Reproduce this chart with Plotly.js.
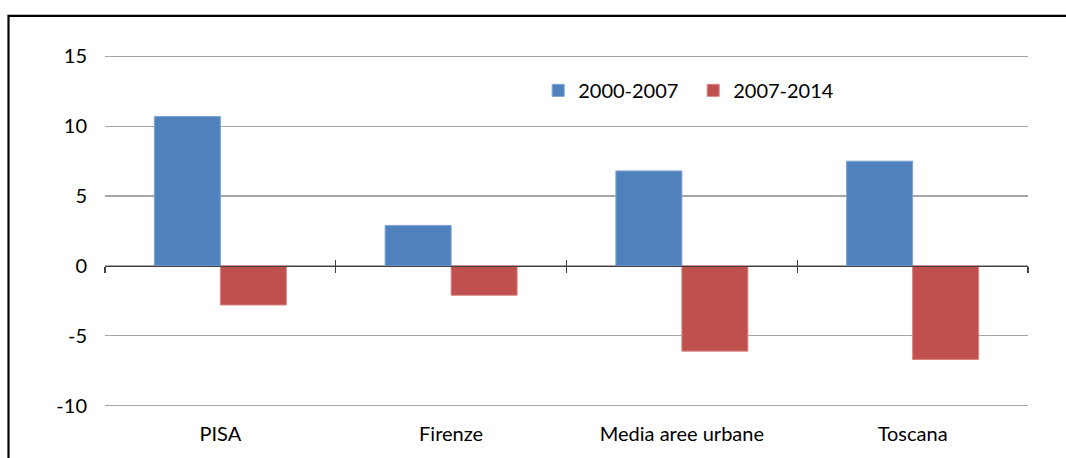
<!DOCTYPE html>
<html>
<head>
<meta charset="utf-8">
<script src="https://cdn.plot.ly/plotly-3.0.1.min.js"></script>
<style>html,body{margin:0;padding:0;background:#fff;}#chart{width:1066px;height:458px;}</style>
</head>
<body>
<div id="chart"></div>
<script>
var categories = ["PISA", "Firenze", "Media aree urbane", "Toscana"];
var series1Name = "2000-2007";
var series2Name = "2007-2014";
var series1 = [10.7, 2.9, 6.8, 7.5];
var series2 = [-2.8, -2.1, -6.1, -6.7];
var yTicks = [-10, -5, 0, 5, 10, 15];
var catIdx = categories.map(function(c, i){ return i; });
var boundaries = [-0.5, 0.5, 1.5, 2.5, 3.5];

var FONT = "Lato, 'Open Sans', sans-serif";
var FS = 20;
var Y0 = -10.1, Y1 = 15.1;          // slight padding so the 15 and -10 gridlines are drawn
var zeroPos = (0 - Y0) / (Y1 - Y0);
var plotTop = 54.6, plotBottom = 406.9, plotH = plotBottom - plotTop;

var traces = [
  {type: "bar", name: series1Name, x: catIdx, y: series1,
   marker: {color: "#4F81BD", line: {color: "#7FA2D3", width: 1}}, hoverinfo: "y"},
  {type: "bar", name: series2Name, x: catIdx, y: series2,
   marker: {color: "#C0504D", line: {color: "#D88583", width: 1}}, hoverinfo: "y"},
  {type: "scatter", mode: "none", x: boundaries, y: boundaries.map(function(){ return 0; }),
   xaxis: "x2", showlegend: false, hoverinfo: "skip"},
  {type: "scatter", mode: "none", x: boundaries, y: boundaries.map(function(){ return 0; }),
   xaxis: "x3", showlegend: false, hoverinfo: "skip"}
];

var tickAxis = function(dir, line){
  return {overlaying: "x", anchor: "free", position: zeroPos, range: [-0.5, 3.5],
          tickvals: boundaries, showticklabels: false, ticks: dir, ticklen: 6,
          tickwidth: 1.3, tickcolor: "#404040", showgrid: false, zeroline: false,
          showline: line, linecolor: "#404040", linewidth: 1.3, layer: "above traces",
          fixedrange: true};
};

var layout = {
  width: 1066, height: 458,
  margin: {l: 105, r: 38, t: plotTop, b: 458 - plotBottom},
  paper_bgcolor: "#fff", plot_bgcolor: "#fff",
  font: {family: FONT, size: FS, color: "#000"},
  barmode: "group", bargap: 0.428, bargroupgap: 0,
  showlegend: true,
  legend: {orientation: "h", x: 0.465 + 4/923, y: (plotBottom - 90) / plotH, xanchor: "left", yanchor: "middle",
           font: {family: FONT, size: FS, color: "#000"}, bgcolor: "rgba(0,0,0,0)",
           entrywidth: 110, entrywidthmode: "pixels", traceorder: "normal"},
  xaxis: {range: [-0.5, 3.5], tickvals: catIdx, ticktext: categories, showgrid: false,
          zeroline: false, showline: false, ticks: "", ticklabelstandoff: 13,
          tickfont: {family: FONT, size: FS, color: "#000"}, fixedrange: true},
  xaxis2: tickAxis("outside", true),
  xaxis3: tickAxis("inside", false),
  yaxis: {range: [Y0, Y1], tickvals: yTicks, ticktext: yTicks.map(String), showgrid: true,
          gridcolor: "#A6A6A6", gridwidth: 1.3, zeroline: false,
          showline: false, ticks: "", ticklabelstandoff: 17,
          tickfont: {family: FONT, size: FS, color: "#000"}, fixedrange: true},
  shapes: [
    {type: "rect", xref: "paper", yref: "paper", x0: (8.5-105)/923, x1: 1.2,
     y0: -0.3, y1: (plotBottom - 15.5) / plotH, line: {color: "#000", width: 2.2},
     fillcolor: "rgba(0,0,0,0)", layer: "above"}
  ]
};

Plotly.newPlot("chart", traces, layout, {displayModeBar: false, staticPlot: true});
</script>
</body>
</html>
